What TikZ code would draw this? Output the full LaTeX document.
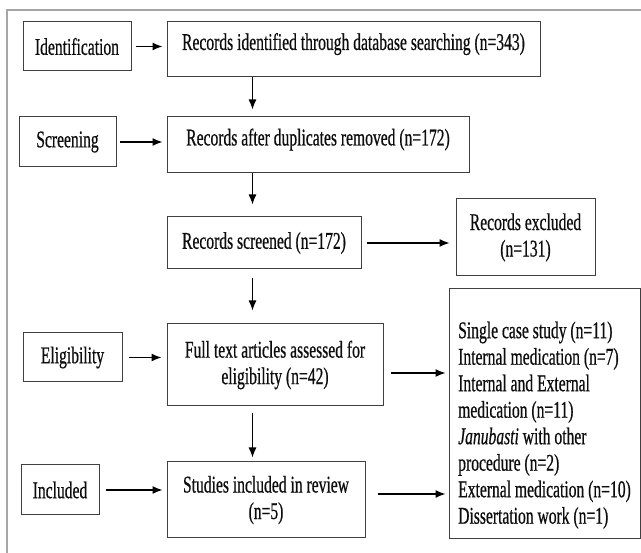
\documentclass[tikz,border=0pt]{standalone}
\usepackage{fontspec}
\setmainfont{Liberation Serif}[FakeStretch=0.65,FakeBold=0.6]
\usetikzlibrary{arrows.meta}

\begin{document}
\begin{tikzpicture}[x=1pt,y=-1pt,
    font=\fontsize{24}{26.5}\selectfont,
    box/.style={draw=black!75,line width=1pt,text=black!95,align=center,inner sep=0pt},
    arr/.style={-{Latex[length=10pt,width=8pt]},line width=1.3pt}]
    \useasboundingbox (0,0) rectangle (641,553);
    \draw[black!35,line width=2.2pt] (641,10) -- (7,10) -- (7,553);
    \coordinate (spine) at (252.5,0);
    % stages
    \node[box,minimum width=108pt,minimum height=49pt] (ident) at (77,46.5) {Identification};
    \node[box,minimum width=97pt,minimum height=50pt] (screen) at (67.5,142) {Screening};
    \node[box,minimum width=99pt,minimum height=49pt] (elig) at (72.5,357.5) {Eligibility};
    \node[box,minimum width=78pt,minimum height=50pt] (incl) at (60,490) {Included};
    % records
    \node[box,minimum width=373pt,minimum height=55pt,text depth=16pt] (recid) at (353.5,49.5) {Records identified through database searching (n=343)};
    \node[box,minimum width=302pt,minimum height=56pt,text depth=16pt] (recdup) at (318,145) {Records after duplicates removed (n=172)};
    \node[box,minimum width=194pt,minimum height=52pt] (recscr) at (264,243) {Records screened (n=172)};
    \node[box,minimum width=139pt,minimum height=77pt] (recexc) at (525.5,237.5) {Records excluded\\(n=131)};
    \node[box,minimum width=216pt,minimum height=82pt] (fulltext) at (275,365) {Full text articles assessed for\\eligibility (n=42)};
    \node[box,minimum width=198pt,minimum height=76pt] (studies) at (266,500) {Studies included in review\\(n=5)};
    \node[box,align=left,minimum width=191pt,minimum height=250pt] (list) at (544.5,414) {\rule{0pt}{39pt}Single case study (n=11)\\Internal medication (n=7)\\Internal and External\\medication (n=11)\\\textit{Janubasti} with other\\procedure (n=2)\\External medication (n=10)\\Dissertation work (n=1)};
    \coordinate (ftout) at ([yshift=-8pt]fulltext.east);
    \coordinate (stout) at ([yshift=6pt]studies.east);
    % down the spine
    \draw[arr,shorten >=7pt] (recid.south -| spine) -- (recdup.north -| spine);
    \draw[arr,shorten >=12pt] (recdup.south -| spine) -- (recscr.north -| spine);
    \draw[arr,shorten <=9pt,shorten >=13pt] (recscr.south -| spine) -- (fulltext.north -| spine);
    \draw[arr,shorten <=7pt,shorten >=4pt] (fulltext.south -| spine) -- (studies.north -| spine);
    % across
    \draw[arr,shorten <=4pt,shorten >=4pt] (ident.east) -- (recid.west |- ident.east);
    \draw[arr,shorten <=3pt,shorten >=4pt] (screen.east) -- (recdup.west |- screen.east);
    \draw[arr,shorten <=6pt,shorten >=5pt] (elig.east) -- (fulltext.west |- elig.east);
    \draw[arr,shorten <=6pt,shorten >=4pt] (incl.east) -- (studies.west |- incl.east);
    \draw[arr,shorten <=5pt,shorten >=6pt] (recscr.east) -- (recexc.west |- recscr.east);
    \draw[arr,shorten <=7pt,shorten >=3pt] (ftout) -- (list.west |- ftout);
    \draw[arr,shorten <=12pt,shorten >=3pt] (stout) -- (list.west |- stout);
\end{tikzpicture}
\end{document}
